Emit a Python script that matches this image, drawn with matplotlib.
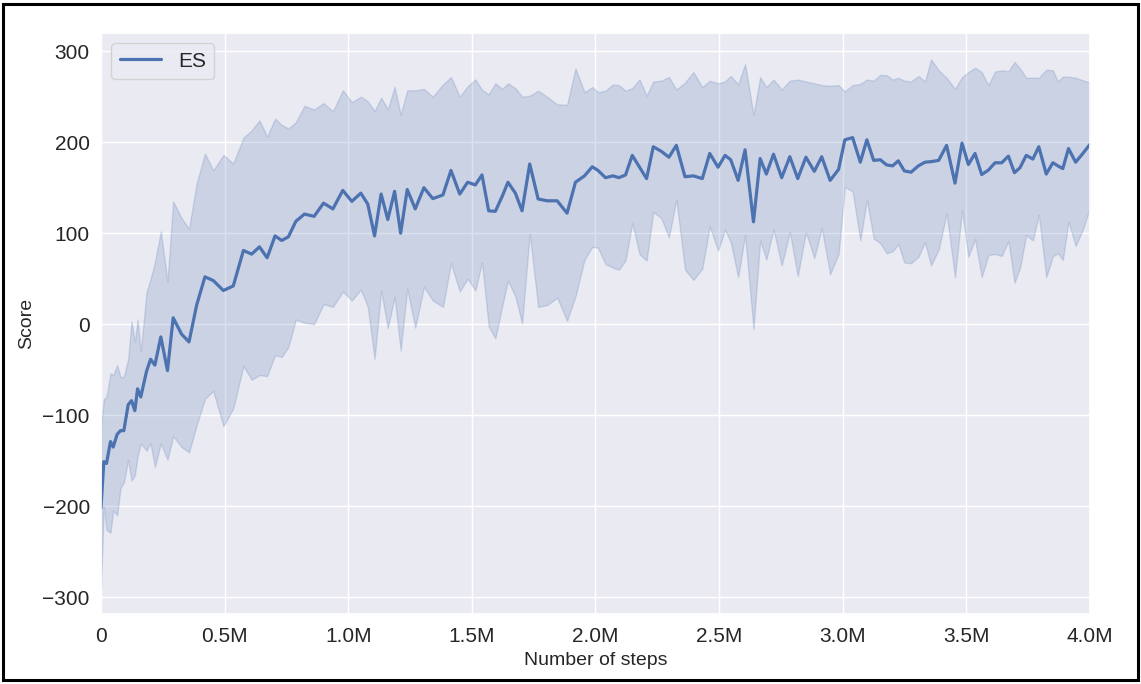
"""ES training curve: mean score with spread band over environment steps."""
import matplotlib
matplotlib.use("Agg")
import matplotlib.pyplot as plt  # noqa: E402
import numpy as np  # noqa: E402
import seaborn as sns  # noqa: E402
from matplotlib.patches import Rectangle  # noqa: E402
from matplotlib.ticker import FuncFormatter, MultipleLocator  # noqa: E402

# steps in millions
STEPS_M = [
    0.000, 0.0115, 0.0223, 0.0385, 0.0493, 0.0655, 0.079, 0.0925, 0.110, 0.1235,
    0.137, 0.148, 0.161, 0.184, 0.2005, 0.218, 0.242, 0.269, 0.292, 0.326,
    0.356, 0.387, 0.4205, 0.454, 0.495, 0.535, 0.576, 0.6095, 0.641, 0.672,
    0.704, 0.731, 0.758, 0.788, 0.823, 0.862, 0.900, 0.938, 0.978, 1.0146,
    1.051, 1.079, 1.1065, 1.133, 1.160, 1.1875, 1.212, 1.2386, 1.271, 1.306, 1.342,
    1.383, 1.4155, 1.451, 1.483, 1.514, 1.541, 1.568, 1.595, 1.622, 1.646,
    1.676, 1.703, 1.734, 1.768, 1.804, 1.845, 1.885, 1.919, 1.9555, 1.987, 2.01,
    2.0405, 2.0705, 2.0947, 2.1215, 2.1487, 2.178, 2.2066, 2.2337, 2.266, 2.297,
    2.327, 2.362, 2.396, 2.432, 2.462, 2.4957, 2.524, 2.547, 2.577, 2.605, 2.639, 2.666,
    2.691, 2.720, 2.753, 2.786, 2.818, 2.851, 2.885, 2.915, 2.949, 2.983,
    3.0085, 3.040, 3.071, 3.0976, 3.125, 3.152, 3.1775, 3.2017, 3.2247, 3.249,
    3.276, 3.306, 3.3326,
    3.357, 3.388, 3.420, 3.454, 3.4825, 3.508, 3.535, 3.562, 3.589, 3.616,
    3.643, 3.670, 3.6945, 3.717, 3.742, 3.769, 3.793, 3.823, 3.850, 3.870,
    3.890, 3.913, 3.942, 3.971, 4.0,
]

MEAN = [
    -202, -151, -153, -129, -135, -121, -117, -117, -88.5, -84,
    -95, -71, -80, -52, -38.6, -45, -14, -51, 7, -11,
    -19.5, 21, 52, 48, 37, 42, 81, 77, 85, 73,
    97, 92, 96, 113, 121, 118.5, 133, 126.7, 147, 135,
    144, 132, 97, 143, 115, 146, 100, 148, 126.7, 150, 138,
    142, 169, 143, 156, 153, 164, 124.6, 124, 140, 156,
    144, 124.6, 176, 137.6, 135.6, 135.6, 122, 156, 163, 173, 169,
    161, 163, 161, 164, 185.5, 172.5, 160, 195, 190, 183.5,
    196.5, 162, 163, 160, 187.6, 172.5, 185.5, 180.7, 158, 191.6, 112.5, 182,
    165, 186.8, 161, 184, 160, 183.5, 168, 184, 158, 170,
    202.6, 205, 178, 202.6, 180, 180.7, 175, 174, 179.5, 168.5,
    167, 174, 178,
    178.6, 180, 196.5, 155, 199, 175.4, 187.6, 164.4, 169.3, 177.4,
    177.4, 184.7, 166.5, 172, 185.5, 181.5, 195, 165, 177.4, 174,
    171, 193, 178, 187.6, 197.7,
]

UPPER = [
    -115, -82, -80, -54, -56, -45, -58, -58, -38, 3,
    -19.5, 5, -30, 35, 49.5, 68, 102, 47, 135, 116.5,
    105, 155, 187.5, 169, 186, 176.6, 205, 213, 224, 206,
    226, 219, 215, 222, 240, 236, 243, 234, 257, 244,
    250, 245, 234, 249, 236, 261, 230, 257, 257, 258.6, 250,
    263.5, 271.6, 250, 261.5, 269, 257.8, 252.5, 264.7, 258.6, 264.7,
    259.4, 250, 251, 256.6, 250, 241.6, 241, 281, 255, 260.6, 255,
    256.6, 263.5, 262.7, 256.6, 259.4, 269, 251, 266.7, 267.6, 271.6,
    257.8, 265.5, 277, 260.6, 267.6, 264.7, 266.7, 272.8, 263.5, 285.8, 230, 271.6,
    260.6, 268.8, 257.8, 267.6, 268.8, 266.7, 264.7, 262.7, 262, 262.7,
    255.8, 262.7, 264, 268.8, 267.6, 274, 273.6, 268.8, 270.8, 267.6,
    266.7, 272.8, 266.7,
    291, 279, 270.8, 258.6, 271.6, 277, 281.8, 277, 262.7, 277.7,
    279, 278, 288.3, 281, 270.8, 270.8, 270.8, 279.7, 279, 266.7,
    272, 272, 270.8, 268, 265.5,
]

LOWER = [
    -289.5, -200, -226, -229, -205, -210, -180, -174, -149, -172,
    -166, -145, -131, -139, -131, -157, -131, -149, -123, -135,
    -141, -111, -82, -73.5, -112, -92.6, -46, -61, -56, -57,
    -34, -36, -25, 5, 1.6, 0, 22, 19, 36, 26,
    38, 19, -38, 37, -4.5, 30, -29, 39, -4, 41, 26,
    19, 67, 36, 50, 37, 68, -2.4, -15.4, 19, 48,
    30.5, 1, 99.5, 19, 21, 29, 3.7, 30.5, 71, 85, 84,
    66, 62, 60, 70, 111, 77, 70, 123.4, 116.5, 95.4,
    136.8, 60, 48.7, 61, 107.6, 80.8, 104, 90, 51.6, 98, -5.3, 92,
    71, 104, 64.6, 101.5, 52.8, 101, 72.7, 105.6, 54.8, 77,
    151, 145.8, 92, 136.8, 94, 89, 78, 80, 88, 67.8,
    67, 74, 90,
    64.6, 82, 121.8, 51.6, 125.5, 74, 93.4, 51.6, 76, 77,
    75, 91.4, 45.5, 61.7, 98, 92, 120, 51.6, 74.7, 78,
    70.6, 112.5, 86, 104, 128,
]


def _steps_label(v, _pos):
    return "0" if v == 0 else f"{v / 1e6:.1f}M"


def main():
    sns.set_theme(style="darkgrid")
    plt.rcParams["font.family"] = ["Liberation Sans", "DejaVu Sans"]

    steps = np.array(STEPS_M) * 1e6
    color = sns.color_palette("deep")[0]

    fig = plt.figure(figsize=(11.41, 6.84), dpi=100)
    ax = fig.add_axes([0.0885, 0.1023, 0.8668, 0.8495])
    ax.fill_between(steps, LOWER, UPPER, color=color, alpha=0.2, lw=1)
    ax.plot(steps, MEAN, color=color, lw=2.3, label="ES")

    ax.set_xlim(0, 4e6)
    ax.xaxis.set_major_locator(MultipleLocator(5e5))
    ax.xaxis.set_major_formatter(FuncFormatter(_steps_label))
    ax.tick_params(labelsize=15)
    ax.tick_params(axis="y", pad=2)
    ax.set_xlabel("Number of steps", fontsize=14)
    ax.set_ylabel("Score", fontsize=14, labelpad=5)
    ax.legend(loc="upper left", fontsize=15)

    # black frame round the whole picture
    fig.patches.append(Rectangle((0.003, 0.006), 0.994, 0.988, transform=fig.transFigure,
                                 fill=False, edgecolor="black", lw=2.2))
    fig.savefig("out.png", dpi=100)
    plt.close(fig)


if __name__ == "__main__":
    main()
